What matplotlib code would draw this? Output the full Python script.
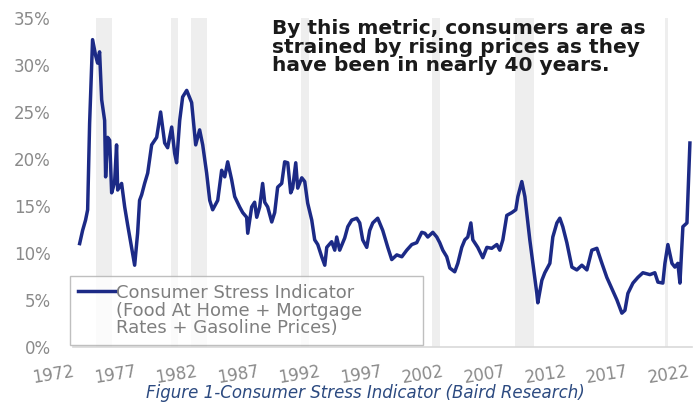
import matplotlib
matplotlib.use('Agg')
import matplotlib.pyplot as plt
import numpy as np

# consumer stress indicator (year, percent)
years = [1972.54, 1972.78, 1973.02, 1973.19, 1973.35, 1973.59, 1973.84, 1974.00, 1974.16, 1974.33,
         1974.57, 1974.65, 1974.81, 1974.98, 1975.14, 1975.38, 1975.54, 1975.63, 1975.95, 1976.20,
         1976.44, 1976.76, 1977.01, 1977.25, 1977.41, 1977.58, 1977.82, 1978.07, 1978.39, 1978.80,
         1979.12, 1979.45, 1979.69, 1980.02, 1980.26, 1980.42, 1980.67, 1980.91, 1981.24, 1981.64,
         1981.72, 1981.97, 1982.29, 1982.54, 1982.86, 1983.11, 1983.35, 1983.76, 1984.08, 1984.33,
         1984.57, 1984.89, 1985.14, 1985.54, 1985.79, 1986.11, 1986.20, 1986.52, 1986.76, 1986.93,
         1987.17, 1987.41, 1987.58, 1987.82, 1988.15, 1988.39, 1988.63, 1988.96, 1989.20, 1989.45,
         1989.69, 1989.85, 1990.10, 1990.26, 1990.59, 1990.83, 1991.07, 1991.40, 1991.64, 1991.89,
         1992.21, 1992.46, 1992.62, 1993.02, 1993.27, 1993.43, 1993.67, 1994.08, 1994.33, 1994.65,
         1995.06, 1995.30, 1995.54, 1995.87, 1996.11, 1996.36, 1996.76, 1997.17, 1997.58, 1997.90,
         1998.31, 1998.72, 1999.12, 1999.53, 1999.93, 2000.34, 2000.59, 2000.83, 2001.24, 2001.56,
         2001.80, 2002.05, 2002.37, 2002.62, 2003.02, 2003.27, 2003.59, 2003.84, 2004.08, 2004.33,
         2004.49, 2004.89, 2005.30, 2005.63, 2006.03, 2006.44, 2006.68, 2006.93, 2007.25, 2007.66,
         2007.98, 2008.15, 2008.47, 2008.72, 2008.96, 2009.12, 2009.37, 2009.69, 2009.77, 2010.10,
         2010.34, 2010.75, 2010.99, 2011.32, 2011.56, 2011.80, 2012.13, 2012.54, 2012.94, 2013.35,
         2013.76, 2014.16, 2014.57, 2014.98, 2015.38, 2015.79, 2016.20, 2016.60, 2016.85, 2017.09,
         2017.50, 2017.90, 2018.31, 2018.88, 2019.28, 2019.53, 2019.93, 2020.10, 2020.34, 2020.67,
         2020.91, 2021.15, 2021.32, 2021.56, 2021.89, 2022.13]
stress = [11.0, 12.4, 13.5, 14.6, 23.8, 32.7, 31.0, 30.2, 31.4, 26.3,
          24.1, 18.1, 22.3, 22.0, 16.4, 17.5, 21.5, 16.7, 17.4, 14.9,
          13.0, 10.6, 8.7, 12.1, 15.6, 16.2, 17.4, 18.5, 21.5, 22.3,
          25.0, 21.7, 21.2, 23.4, 20.6, 19.6, 24.1, 26.6, 27.3, 26.0,
          24.9, 21.5, 23.1, 21.5, 18.5, 15.6, 14.6, 15.6, 18.8, 18.1,
          19.7, 17.8, 16.0, 14.9, 14.3, 13.8, 12.1, 14.9, 15.4, 13.8,
          14.9, 17.4, 15.4, 14.9, 13.3, 14.3, 17.0, 17.4, 19.7, 19.6,
          16.4, 16.9, 19.6, 16.9, 18.0, 17.6, 15.3, 13.5, 11.4, 10.9,
          9.6, 8.7, 10.6, 11.2, 10.3, 11.7, 10.3, 11.6, 12.8, 13.5,
          13.7, 13.2, 11.4, 10.6, 12.4, 13.2, 13.7, 12.4, 10.6, 9.3,
          9.8, 9.6, 10.3, 10.9, 11.1, 12.2, 12.1, 11.7, 12.2, 11.7,
          11.1, 10.3, 9.6, 8.4, 8.0, 8.9, 10.6, 11.4, 11.7, 13.2,
          11.4, 10.6, 9.5, 10.6, 10.5, 10.9, 10.3, 11.4, 14.0, 14.3,
          14.6, 16.0, 17.6, 16.0, 13.2, 11.4, 8.9, 5.7, 4.7, 7.1,
          7.9, 8.9, 11.7, 13.2, 13.7, 12.8, 11.1, 8.5, 8.2, 8.7,
          8.2, 10.3, 10.5, 8.9, 7.4, 6.2, 5.0, 3.6, 3.9, 5.7,
          6.8, 7.4, 7.9, 7.7, 7.9, 6.9, 6.8, 8.9, 10.9, 8.9,
          8.5, 8.9, 6.8, 12.8, 13.2, 21.7]

# recession shading
rec_start = [1973.9, 1980.0, 1981.55, 1990.55, 2001.2, 2007.9, 2020.1]
rec_end = [1975.2, 1980.55, 1982.9, 1991.2, 2001.85, 2009.45, 2020.35]

xtick_years = [1972, 1977, 1982, 1987, 1992, 1997, 2002, 2007, 2012, 2017, 2022]
ytick_vals = [0, 5, 10, 15, 20, 25, 30, 35]
ytick_labels = ['0%', '5%', '10%', '15%', '20%', '25%', '30%', '35%']

legend_label = 'Consumer Stress Indicator\n(Food At Home + Mortgage\nRates + Gasoline Prices)'
note = 'By this metric, consumers are as\nstrained by rising prices as they\nhave been in nearly 40 years.'
caption = 'Figure 1-Consumer Stress Indicator (Baird Research)'

plt.rcParams['font.family'] = 'DejaVu Sans'

W, H = 700, 409
fig = plt.figure(figsize=(7.0, 4.09), dpi=100)
ax = fig.add_axes([73 / W, 1 - 347 / H, (692 - 73) / W, (347 - 18) / H])

for s, e in zip(rec_start, rec_end):
    ax.axvspan(s, e, color='#eeeeee', lw=0, zorder=0)

ax.plot(years, stress, color='#1c2a86', lw=2.5, solid_joinstyle='round',
        label=legend_label, zorder=3)

ax.set_xlim(1972, 2022.3)
ax.set_ylim(0, 35)

for side in ['top', 'right', 'left']:
    ax.spines[side].set_visible(False)
ax.spines['bottom'].set_color('#d9d9d9')
ax.spines['bottom'].set_linewidth(1.2)

ax.set_yticks(ytick_vals)
ax.set_yticklabels(ytick_labels)
ax.set_xticks(xtick_years)
ax.set_xticklabels([str(y) for y in xtick_years], rotation=9, ha='right',
                   rotation_mode='anchor')
ax.tick_params(axis='y', length=0, pad=16, labelsize=12, labelcolor='#8a8a8a')
ax.tick_params(axis='x', length=0, pad=11, labelsize=12, labelcolor='#8a8a8a')

leg = ax.legend(loc='lower left',
                bbox_to_anchor=(70 / W, 1 - 345 / H, (423 - 70) / W, 0.1),
                bbox_transform=fig.transFigure, mode='expand', fontsize=13,
                frameon=True, fancybox=False, handlelength=2.1, handletextpad=0.0,
                borderpad=0.45, borderaxespad=0)
leg.get_frame().set_edgecolor('#b0b0b0')
leg.get_frame().set_linewidth(1.0)
for t in leg.get_texts():
    t.set_color('#7f7f7f')
    t.set_linespacing(0.95)
# put the line next to the first text line
for col in leg._legend_handle_box.get_children():
    for row in col.get_children():
        row.align = 'top'

fig.text(272 / W, 1 - 19 / H, note, ha='left', va='top', fontsize=14.5,
         fontweight='bold', color='#1a1a1a', linespacing=0.98)

fig.text(365 / W, 1 - 393 / H, caption, ha='center', va='center', fontsize=12,
         style='italic', color='#2c4a80')

fig.savefig('out.png', dpi=100)
